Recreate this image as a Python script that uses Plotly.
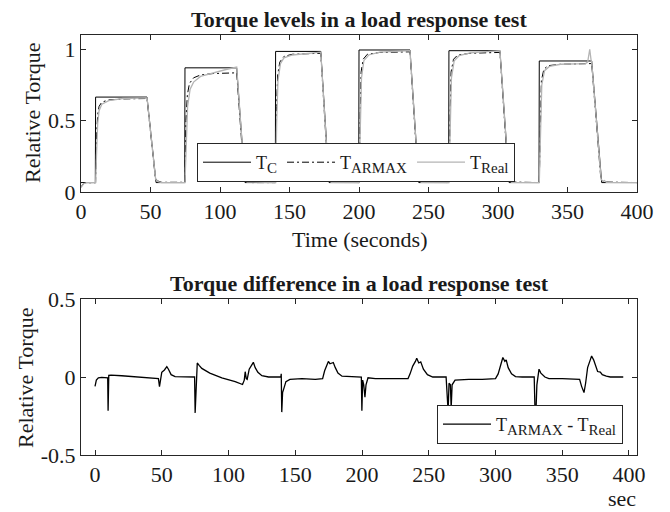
import plotly.graph_objects as go

# ---------------- data ----------------
tc_t = [0, 10.3, 10.5, 47.5, 54, 74.6, 74.8, 112, 118, 139.8, 140, 172.5, 178.5,
        199.8, 200, 236.7, 243, 264.5, 264.7, 301.4, 308, 329.5, 329.7, 367.4, 374.6, 400]
tc_v = [0.066, 0.066, 0.665, 0.665, 0.066, 0.066, 0.87, 0.87, 0.066, 0.066, 0.985, 0.985, 0.066,
        0.066, 0.995, 0.995, 0.066, 0.066, 0.99, 0.99, 0.066, 0.066, 0.918, 0.918, 0.066, 0.066]

armax_t = [0, 1.5, 3, 10.5, 11.2, 12, 13, 15, 20, 30, 47.5, 53.5, 55, 58,
           74.8, 75.5, 76.5, 78, 81, 86, 95, 112, 117.5, 119.5, 122,
           140, 140.7, 141.5, 143, 146, 152, 172.5, 178, 180,
           200, 200.7, 201.5, 203, 206, 215, 236.7, 242.5, 244.5,
           264.7, 265.4, 266.2, 268, 271, 280, 301.4, 307.5, 309.5,
           329.7, 330.4, 331.2, 333, 336, 345, 367.4, 374, 376, 400]
armax_v = [0.035, 0.055, 0.065, 0.065, 0.40, 0.54, 0.60, 0.63, 0.645, 0.652, 0.655, 0.10, 0.078, 0.068,
           0.068, 0.50, 0.68, 0.76, 0.80, 0.82, 0.83, 0.835, 0.09, 0.072, 0.066,
           0.066, 0.60, 0.82, 0.91, 0.95, 0.965, 0.972, 0.09, 0.07,
           0.066, 0.62, 0.84, 0.93, 0.965, 0.978, 0.982, 0.09, 0.07,
           0.066, 0.62, 0.84, 0.93, 0.96, 0.972, 0.978, 0.09, 0.07,
           0.066, 0.58, 0.78, 0.86, 0.885, 0.895, 0.90, 0.09, 0.07, 0.066]

real_t = [0, 2, 4, 10.5, 11.3, 12, 13, 15, 20, 30, 47.5, 53.7, 55.5, 58,
          74.8, 75.7, 76.7, 78.5, 81, 86, 95, 105, 112, 117.8, 119.5,
          140, 140.8, 141.7, 143.5, 146, 152, 172.5, 178.2, 180,
          200, 200.8, 201.8, 203.5, 207, 215, 236.7, 242.8, 244.8,
          264.7, 265.5, 266.5, 268.5, 272, 280, 301.4, 307.8, 309.8,
          329.7, 330.5, 331.5, 333.5, 337, 345, 363, 364.5, 366, 367, 367.4,
          374.2, 375.5, 376.5, 378, 400]
real_v = [0.03, 0.058, 0.066, 0.066, 0.30, 0.48, 0.57, 0.615, 0.64, 0.655, 0.66, 0.09, 0.072, 0.066,
          0.066, 0.40, 0.60, 0.72, 0.77, 0.81, 0.835, 0.86, 0.875, 0.085, 0.07,
          0.066, 0.50, 0.78, 0.90, 0.94, 0.96, 0.98, 0.085, 0.068,
          0.066, 0.50, 0.80, 0.92, 0.96, 0.98, 0.99, 0.085, 0.068,
          0.066, 0.50, 0.80, 0.92, 0.955, 0.975, 0.99, 0.085, 0.068,
          0.066, 0.45, 0.75, 0.85, 0.88, 0.895, 0.90, 0.91, 1.0, 0.92, 0.91,
          0.09, 0.075, 0.08, 0.068, 0.066]

diff_t = [0, 1, 2.5, 5, 9.5, 9.8, 10.3, 12, 20, 30, 40, 47.5, 48.3, 49, 50, 52, 53.8, 55, 57, 60, 70,
          74.6, 75.0, 75.6, 76.6, 78, 80, 86, 95, 105, 110.5, 111.8, 112.5, 113.3, 114, 115.5, 117,
          118.6, 120, 122, 125, 130, 139.2, 139.5, 139.9, 140.5, 141.6, 143, 146, 155, 165, 170.5,
          172, 174, 174.8, 176, 178.5, 180, 182, 185, 195, 199.5, 199.9, 200.5, 201.3, 202.2, 203,
          204.5, 210, 225, 234.5, 236, 238, 240, 241, 242.5, 244, 246, 249, 253, 263, 264.5, 265.2,
          266.2, 266.8, 267.5, 269.7, 280, 290, 300, 302, 304, 305.5, 307, 308, 309.5, 312, 315, 320,
          329, 329.6, 330.4, 331, 332.6, 334, 337, 340, 350, 360, 363, 364.5, 366.3, 367.5, 369, 371,
          372, 373.5, 374.5, 375.5, 376.5, 378.5, 380, 383, 386, 395.7]
diff_v = [-0.06, -0.02, -0.005, -0.003, -0.005, -0.216, 0.01, 0.012, 0.008, 0.0, -0.005, -0.01, -0.062,
          -0.02, 0.03, 0.045, 0.066, 0.05, 0.015, 0.003, 0.0,
          0.0, -0.23, -0.05, 0.09, 0.075, 0.055, 0.025, -0.005, -0.03, -0.048, -0.02, 0.034, -0.01,
          -0.015, 0.05, 0.075,
          0.094, 0.06, 0.03, 0.008, 0.0, 0.0, 0.02, -0.225, -0.1, -0.07, -0.03, -0.015, -0.01, -0.015,
          -0.01,
          0.04, 0.09, 0.1, 0.085, 0.093, 0.06, 0.025, 0.005, 0.0, 0.0, -0.216, -0.02, -0.05, -0.13,
          -0.05,
          -0.005, -0.01, -0.01, -0.01, 0.02, 0.07, 0.1, 0.12, 0.09, 0.097, 0.05, 0.015, 0.0, 0.0,
          -0.22, -0.04,
          -0.05, -0.2, -0.05, -0.02, -0.015, -0.015, -0.01, 0.02, 0.08, 0.125, 0.1, 0.11, 0.06, 0.02,
          0.003, 0.0,
          0.0, -0.22, -0.2, -0.05, 0.05, 0.025, 0.0, -0.01, -0.01, -0.012, -0.015, -0.06, -0.1, -0.04,
          0.06, 0.11,
          0.135, 0.11, 0.088, 0.06, 0.035, 0.032, 0.015, 0.005, 0.0, 0.0]

top_xticks = [0, 50, 100, 150, 200, 250, 300, 350, 400]
top_yticks = [0, 0.5, 1]
top_yticklabels = ["0", "0.5", "1"]
bot_yticks = [-0.5, 0, 0.5]
bot_yticklabels = ["-0.5", "0", "0.5"]

# ---------------- figure ----------------
FONT = "Liberation Serif"
AX = "#262626"
TXT = "#1a1a1a"
W, H = 670, 512


def px_x(p):
    return p / W


def px_y(p):
    return 1 - p / H


def sub(s):
    return "<sub><span style='font-size:15px'>" + s + "</span></sub>"


fig = go.Figure()
fig.add_trace(go.Scatter(x=tc_t, y=tc_v, mode="lines", name="T" + sub("C"),
                         line=dict(color="black", width=1), xaxis="x", yaxis="y"))
fig.add_trace(go.Scatter(x=armax_t, y=armax_v, mode="lines", name="T" + sub("ARMAX"),
                         line=dict(color="black", width=1, dash="7px,3px,2px,3px"),
                         xaxis="x", yaxis="y"))
fig.add_trace(go.Scatter(x=real_t, y=real_v, mode="lines", name="T" + sub("Real"),
                         line=dict(color="#b4b4b4", width=1.3), xaxis="x", yaxis="y"))
fig.add_trace(go.Scatter(x=diff_t, y=diff_v, mode="lines",
                         name="T" + sub("ARMAX") + " - T" + sub("Real"),
                         line=dict(color="black", width=1.3), xaxis="x2", yaxis="y2",
                         legend="legend2"))

axis_common = dict(showgrid=False, zeroline=False, showline=True, linecolor=AX, linewidth=1,
                   mirror="ticks", ticks="inside", ticklen=5, tickcolor=AX, automargin=False,
                   tickfont=dict(family=FONT, size=22, color=TXT))

fig.update_layout(
    width=W, height=H, margin=dict(l=0, r=0, t=0, b=0, autoexpand=False),
    paper_bgcolor="white", plot_bgcolor="white",
    font=dict(family=FONT, size=22, color=TXT),
    xaxis=dict(domain=[px_x(81), px_x(637)], range=[0, 400], tickvals=top_xticks,
               anchor="y", **axis_common),
    yaxis=dict(domain=[px_y(192), px_y(35)], range=[0, 1.1], tickvals=top_yticks,
               ticktext=top_yticklabels, anchor="x", **axis_common),
    xaxis2=dict(domain=[px_x(81), px_x(637)], range=[-10.5, 406], tickvals=top_xticks,
                anchor="y2", **axis_common),
    yaxis2=dict(domain=[px_y(455), px_y(299)], range=[-0.5, 0.5], tickvals=bot_yticks,
                ticktext=bot_yticklabels, anchor="x2", **axis_common),
    legend=dict(orientation="h", x=px_x(197), y=px_y(143), xanchor="left", yanchor="top",
                bgcolor="white", bordercolor=AX, borderwidth=1, itemwidth=48,
                font=dict(family=FONT, size=18, color=TXT)),
    legend2=dict(orientation="h", x=px_x(437), y=px_y(405), xanchor="left", yanchor="top",
                 bgcolor="white", bordercolor=AX, borderwidth=1, itemwidth=48,
                 font=dict(family=FONT, size=18, color=TXT)),
    showlegend=True,
)

ann = [
    dict(text="<b>Torque levels in a load response test</b>", x=px_x(359), y=px_y(19)),
    dict(text="<b>Torque difference in a load response test</b>", x=px_x(359), y=px_y(283)),
    dict(text="Time (seconds)", x=px_x(359), y=px_y(239)),
    dict(text="Relative Torque", x=px_x(32), y=px_y(113), textangle=-90),
    dict(text="Relative Torque", x=px_x(25), y=px_y(378), textangle=-90),
]
for a in ann:
    fig.add_annotation(xref="paper", yref="paper", showarrow=False, xanchor="center",
                       yanchor="middle", font=dict(family=FONT, size=22, color=TXT), **a)
fig.add_annotation(text="sec", xref="paper", yref="paper", x=px_x(638), y=px_y(498),
                   xanchor="right", yanchor="middle", showarrow=False,
                   font=dict(family=FONT, size=22, color=TXT))

fig.write_html("out.html")
